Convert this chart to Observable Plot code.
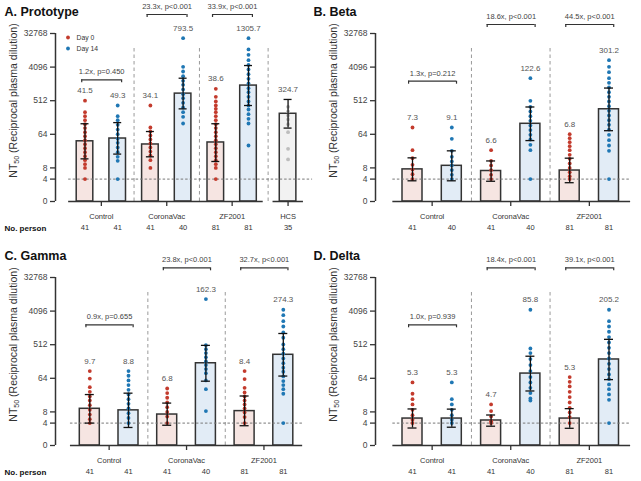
<!DOCTYPE html>
<html><head><meta charset="utf-8">
<script src="https://cdn.jsdelivr.net/npm/d3@7"></script>
<script src="https://cdn.jsdelivr.net/npm/@observablehq/plot@0.6"></script>
<style>
body{margin:0;background:#fff;width:641px;height:481px;overflow:hidden;position:relative;font-family:"Liberation Sans",Arial,sans-serif}
.panel{position:absolute}
.panel svg{overflow:visible}
</style></head><body>
<script>
// ---------- data ----------
const yTickValues = [1, 4, 8, 64, 512, 4096, 32768];
const yTickLabels = ["0", "4", "8", "64", "512", "4096", "32768"];
const dayNames = ["Day 0", "Day 14"];
const groupsProto = ["Control", "CoronaVac", "ZF2001", "HCS"];
const groupsVariant = ["Control", "CoronaVac", "ZF2001"];
const yTitle = "NT50 (Reciprocal plasma dilution)";

// A. Prototype (Control d0, d14, CoronaVac d0, d14, ZF2001 d0, d14, HCS)
const protoGMT = [41.5, 49.3, 34.1, 793.5, 38.6, 1305.7, 324.7];
const protoBar = [41.5, 49.3, 34.1, 793.5, 38.6, 1305.7, 228];
const protoLo = [14.0, 18.8, 15.9, 309, 11.9, 380, 94];
const protoHi = [123, 132, 76, 2060, 123, 4510, 553];
const protoN = [41, 41, 41, 40, 81, 81, 35];
const protoFold = ["1.2x, p=0.450", "23.3x, p<0.001", "33.9x, p<0.001"];
const protoDots = [
  [512, 252, 197, 153, 120, 94, 73, 57, 44.5, 34.8, 27.1, 21.2, 16.5, 12.9, 10.1, 8, 4],
  [380, 197, 153, 115, 86, 64.5, 48.5, 37.8, 28.3, 21.2, 15.9, 12.4, 4],
  [380, 97.6, 76, 59.4, 46.4, 36.2, 28.3, 22, 17.2, 12.9, 8],
  [24500, 4160, 3120, 2340, 1750, 1370, 1024, 766, 600, 449, 336, 252, 189, 125],
  [1067, 651, 487, 380, 309, 252, 197, 153, 120, 94, 73, 57, 44.5, 34.8, 27.1, 21.2, 16.5, 12.9, 10.1, 8, 4],
  [24500, 12200, 8780, 6290, 4700, 3540, 2650, 1980, 1490, 1110, 867, 651, 487, 380, 297, 223, 167, 125, 32],
  [350, 263, 205, 160, 120, 73, 26, 13.5]
];

// B. Beta
const betaGMT = [7.3, 9.1, 6.6, 122.6, 6.8, 301.2];
const betaLo = [3.6, 3.6, 3.5, 43.4, 3.2, 80];
const betaHi = [14.9, 23, 12.3, 347, 14.6, 1120];
const betaN = [41, 40, 41, 40, 81, 81];
const betaFold = ["1.3x, p=0.212", "18.6x, p<0.001", "44.5x, p<0.001"];
const betaDots = [
  [97.6, 24, 14.6, 9.7, 7.3, 5.4, 4],
  [97.6, 48.5, 23, 15.9, 11.9, 9.3, 7, 5.2, 4],
  [24, 12.4, 9.3, 7, 5.2, 4],
  [2060, 508, 350, 263, 197, 147, 110, 83, 62, 46.4, 33.4, 24, 4],
  [64.5, 50.3, 39.4, 30.7, 24, 18, 14, 10.5, 8, 6.1, 4.8, 4],
  [6290, 4160, 3000, 2060, 1550, 1160, 867, 651, 487, 365, 274, 205, 153, 115, 86, 62, 44.5, 32, 23, 4]
];

// C. Gamma
const gammaGMT = [9.7, 8.8, 6.8, 162.3, 8.4, 274.3];
const gammaLo = [4.0, 3.05, 3.5, 53.5, 3.4, 73.5];
const gammaHi = [23.4, 25.5, 13.8, 491, 21.4, 1024];
const gammaN = [41, 41, 41, 40, 81, 81];
const gammaFold = ["0.9x, p=0.655", "23.8x, p<0.001", "32.7x, p<0.001"];
const gammaDots = [
  [100, 63, 37, 27.7, 20.8, 16.2, 12.1, 9.1, 6.8, 5.1, 4],
  [100, 75, 56, 42, 31.4, 23.6, 17.6, 13.2, 9.9, 7.4, 5.5, 4],
  [34, 25.6, 19.2, 14.3, 10.7, 8, 6, 4],
  [8600, 498, 388, 304, 237, 185, 145, 113, 88, 56, 32.7, 8.4],
  [100, 61, 35.5, 26.6, 20.8, 16.2, 12.7, 9.9, 7.7, 5.8, 4],
  [4450, 3190, 2200, 1580, 1090, 786, 519, 388, 292, 218, 163, 123, 96, 72, 54, 42, 32.7, 24.6, 4]
];

// D. Delta
const deltaGMT = [5.3, 5.3, 4.7, 85.8, 5.3, 205.2];
const deltaLo = [2.95, 3.1, 3.3, 29.2, 2.9, 59];
const deltaHi = [9.6, 9.5, 6.6, 251, 9.8, 714];
const deltaN = [41, 41, 41, 40, 81, 81];
const deltaFold = ["1.0x, p=0.939", "18.4x, p<0.001", "39.1x, p<0.001"];
const deltaDots = [
  [49.5, 24.6, 17.6, 12.7, 9.1, 6.5, 4.9, 4],
  [49.5, 17.6, 12.7, 9.1, 6.5, 4.9, 4],
  [12.7, 8.4, 6, 4.5, 4],
  [4450, 405, 304, 210, 145, 100, 69, 49.5, 35.5, 25.6, 18.4, 16.2],
  [69, 51.6, 38.6, 27.7, 20, 14.3, 10.3, 7.7, 5.8, 4],
  [4450, 2200, 1580, 1140, 819, 588, 422, 304, 218, 157, 113, 81, 61, 43.7, 32.7, 23.6, 16.9, 4]
];

// ---------- layout & style ----------
const fillOf = {d0: "#f6e5e2", d14: "#e2ecf6", hcs: "#f2f2f2"};
const dotOf = {d0: "#c33b2d", d14: "#1f77b4", hcs: "#bdbdbd"};

const panels = [
  {title: "A. Prototype", groups: groupsProto, gmt: protoGMT, bar: protoBar, lo: protoLo, hi: protoHi, n: protoN, fold: protoFold, dots: protoDots,
   L: {left: 0, top: 0, width: 320, axisPx: 55, titleX: 4, x0: 84.5, step: 32.7, barHalf: 8.3, capHalf: 4,
       bars: [0, 1, 2, 3, 4, 5, 6.21], centers: [0.5, 2.5, 4.5, 6.21], axisSegs: [[-0.5, 5.45], [5.75, 6.68]],
       seps: [1.5, 3.5, 5.6], lod: [-0.5, 6.96], topBracket: 14, ctrlBracket: 79.3, nLabel: true, legend: true}},
  {title: "B. Beta", groups: groupsVariant, gmt: betaGMT, bar: betaGMT, lo: betaLo, hi: betaHi, n: betaN, fold: betaFold, dots: betaDots,
   L: {left: 308, top: 0, width: 333, axisPx: 67, titleX: 5, x0: 104, step: 39.3, barHalf: 10, capHalf: 4.5,
       bars: [0, 1, 2, 3, 4, 5], centers: [0.5, 2.5, 4.5], axisSegs: [[-0.5, 5.55]],
       seps: [1.5, 3.5], lod: [-0.5, 5.55], topBracket: 24, ctrlBracket: 80.7, nLabel: false, legend: false}},
  {title: "C. Gamma", groups: groupsVariant, gmt: gammaGMT, bar: gammaGMT, lo: gammaLo, hi: gammaHi, n: gammaN, fold: gammaFold, dots: gammaDots,
   L: {left: 0, top: 244, width: 320, axisPx: 55, titleX: 4, x0: 89.3, step: 38.7, barHalf: 10, capHalf: 4.5,
       bars: [0, 1, 2, 3, 4, 5], centers: [0.5, 2.5, 4.5], axisSegs: [[-0.5, 5.5]],
       seps: [1.5, 3.5], lod: [-0.5, 5.5], topBracket: 23.3, ctrlBracket: 80.3, nLabel: true, legend: false}},
  {title: "D. Delta", groups: groupsVariant, gmt: deltaGMT, bar: deltaGMT, lo: deltaLo, hi: deltaHi, n: deltaN, fold: deltaFold, dots: deltaDots,
   L: {left: 308, top: 244, width: 333, axisPx: 67, titleX: 5, x0: 104, step: 39.3, barHalf: 10, capHalf: 4.5,
       bars: [0, 1, 2, 3, 4, 5], centers: [0.5, 2.5, 4.5], axisSegs: [[-0.5, 5.55]],
       seps: [1.5, 3.5], lod: [-0.5, 5.55], topBracket: 23.3, ctrlBracket: 80.3, nLabel: false, legend: false}}
];

function drawPanel(P) {
  const L = P.L;
  const px = p => (p - L.x0) / L.step;                 // pixel -> x value
  const yv = py => 2 ** ((201 - py) * 15 / 168);        // pixel -> y value
  const rows = P.bar.map((v, k) => ({
    xi: L.bars[k], v, lo: P.lo[k], hi: P.hi[k], n: P.n[k],
    label: P.gmt[k].toFixed(1),
    kind: k >= 6 ? "hcs" : (k % 2 ? "d14" : "d0"),
    top: Math.max(d3.max(P.dots[k]), P.hi[k])
  }));
  const pts = P.dots.flatMap((arr, k) => arr.map(v => ({xi: rows[k].xi, v, kind: rows[k].kind})));
  const brackets = P.fold.map((t, g) => ({a: 2 * g - 0.1, b: 2 * g + 1.12, py: g === 0 ? L.ctrlBracket : L.topBracket, t}));
  const ends = brackets.flatMap(b => [{x: b.a, py: b.py}, {x: b.b, py: b.py}]);
  const centers = P.groups.map((g, i) => ({g, x: L.centers[i]}));
  const hw = L.barHalf / L.step, cap = L.capHalf / L.step;
  const ax = px(L.axisPx);

  const marks = [
    Plot.ruleX(L.seps, {x: d => d, y1: 1, y2: yv(46.5), stroke: "#9a9a9a", strokeWidth: 1, strokeDasharray: "3.5,3"}),
    Plot.rect(rows, {x1: d => d.xi - hw, x2: d => d.xi + hw, y1: 1, y2: "v", fill: d => fillOf[d.kind], stroke: "#333", strokeWidth: 1.5}),
    Plot.ruleY([4], {x1: L.lod[0], x2: L.lod[1], stroke: "#777", strokeWidth: 1, strokeDasharray: "2.5,2"}),
    Plot.dot(pts, {x: "xi", y: "v", r: 1.9, fill: d => dotOf[d.kind], stroke: "none"}),
    Plot.ruleX(rows, {x: "xi", y1: "lo", y2: "hi", stroke: "#111", strokeWidth: 1.3}),
    Plot.ruleY(rows, {y: "hi", x1: d => d.xi - cap, x2: d => d.xi + cap, stroke: "#111", strokeWidth: 1.3}),
    Plot.ruleY(rows, {y: "lo", x1: d => d.xi - cap, x2: d => d.xi + cap, stroke: "#111", strokeWidth: 1.3}),
    Plot.text(rows, {x: "xi", y: "top", dy: -10, text: "label", fontSize: 8, fill: "#555"}),
    // brackets
    Plot.ruleY(brackets, {y: d => yv(d.py), x1: "a", x2: "b", stroke: "#333", strokeWidth: 1.2}),
    Plot.ruleX(ends, {x: "x", y1: d => yv(d.py), y2: d => yv(d.py + 3), stroke: "#333", strokeWidth: 1.2}),
    Plot.text(brackets, {x: d => (d.a + d.b) / 2, y: d => yv(d.py - 8), text: "t", fontSize: 7.5, fill: "#444"}),
    // y axis
    Plot.ruleX([ax], {x: d => d, y1: 1, y2: 32768, stroke: "#333", strokeWidth: 1.5}),
    Plot.ruleY(yTickValues, {y: d => d, x1: px(L.axisPx - 5), x2: ax, stroke: "#333", strokeWidth: 1.3}),
    Plot.text(yTickValues, {y: d => d, x: px(L.axisPx - 8), text: (d, i) => yTickLabels[i], textAnchor: "end", fontSize: 8.5, fill: "#444"}),
    Plot.text([yTitle], {x: px(L.axisPx - 42), y: yv(100), text: d => d, rotate: -90, fontSize: 10.5, fill: "#333"}),
    // x axis
    Plot.ruleY(L.axisSegs, {y: 1, x1: d => d[0], x2: d => d[1], stroke: "#333", strokeWidth: 1.5}),
    Plot.ruleX(centers, {x: "x", y1: 1, y2: yv(206), stroke: "#333", strokeWidth: 1.3}),
    Plot.text(centers, {x: "x", y: yv(216.5), text: "g", fontSize: 7.5, fill: "#333"}),
    Plot.text(rows, {x: "xi", y: yv(227.5), text: d => String(d.n), fontSize: 7.5, fill: "#333"}),
    // title
    Plot.text([P.title], {x: px(L.titleX), y: yv(11.5), text: d => d, textAnchor: "start", fontWeight: "bold", fontSize: 12.5, fill: "#111"})
  ];
  if (L.nLabel) marks.push(Plot.text(["No. person"], {x: px(4), y: yv(227.5), text: d => d, textAnchor: "start", fontWeight: "bold", fontSize: 8, fill: "#111"}));
  if (L.legend) {
    marks.push(Plot.dot(dayNames, {x: px(67.5), y: (d, i) => yv(37 + i * 11), r: 1.9, fill: (d, i) => i ? dotOf.d14 : dotOf.d0}));
    marks.push(Plot.text(dayNames, {x: px(76), y: (d, i) => yv(37 + i * 11), text: d => d, textAnchor: "start", fontSize: 6.8, fill: "#333"}));
  }

  const svg = Plot.plot({
    width: L.width, height: 237,
    marginTop: 33, marginBottom: 36, marginLeft: L.axisPx, marginRight: 5,
    x: {type: "linear", domain: [0, 1], range: [L.x0, L.x0 + L.step], axis: null},
    y: {type: "log", base: 2, domain: [1, 32768], range: [201, 33], axis: null},
    color: {type: "identity"},
    style: {fontFamily: "'Liberation Sans', Arial, sans-serif", background: "transparent", overflow: "visible"},
    marks
  });
  // subscript for NT50
  svg.querySelectorAll("text").forEach(t => {
    if (t.textContent === yTitle) {
      t.textContent = "";
      const ns = "http://www.w3.org/2000/svg";
      t.appendChild(document.createTextNode("NT"));
      const s = document.createElementNS(ns, "tspan");
      s.setAttribute("dy", "2.5"); s.setAttribute("font-size", "7"); s.textContent = "50";
      t.appendChild(s);
      const r = document.createElementNS(ns, "tspan");
      r.setAttribute("dy", "-2.5"); r.textContent = " (Reciprocal plasma dilution)";
      t.appendChild(r);
    }
  });
  const div = document.createElement("div");
  div.className = "panel";
  div.style.left = L.left + "px";
  div.style.top = L.top + "px";
  div.appendChild(svg);
  document.body.appendChild(div);
}
panels.forEach(drawPanel);
</script>
</body></html>
